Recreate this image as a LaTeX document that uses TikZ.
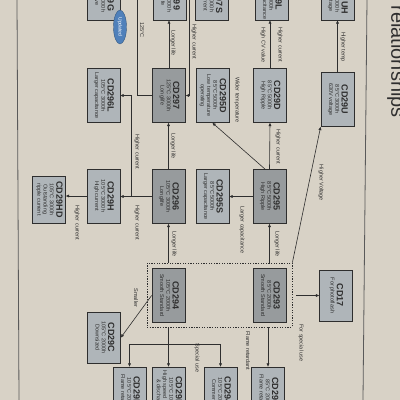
\documentclass[tikz,border=0pt]{standalone}
\usepackage{fontspec}
\setmainfont{Liberation Sans}
\usepackage{graphicx}
\usetikzlibrary{arrows.meta,shapes.geometric}
\definecolor{bg}{HTML}{D8D2C6}
\definecolor{ink}{HTML}{2E2E2E}
\definecolor{boxd}{HTML}{979B9D}
\definecolor{boxl}{HTML}{AFB5B9}
\definecolor{updb}{HTML}{4F80BA}
\definecolor{frame}{HTML}{5A5A5A}
\newcommand{\bxt}[2]{\rotatebox{-90}{\fontsize{5.5}{6.3}\selectfont\begin{tabular}{@{}c@{}}{\fontsize{9}{9.5}\selectfont\bfseries #1}\\#2\end{tabular}}}
\newcommand{\lb}[1]{\rotatebox{-90}{\fontsize{5.5}{6}\selectfont #1}}
\begin{document}
\begin{tikzpicture}[x=1pt,y=-1pt,
  boxbase/.style={draw=ink, line width=0.8pt, inner sep=0pt, text=ink},
  dbx/.style={boxbase, fill=boxd, minimum width=33pt, minimum height=54pt},
  lbx/.style={boxbase, fill=boxl, minimum width=33pt, minimum height=54pt},
  topbx/.style={minimum height=48pt},
  arr/.style={draw=ink, line width=0.6pt, -{Triangle[length=3.2pt,width=2.8pt]}},
  ln/.style={draw=ink, line width=0.6pt},
  lbl/.style={inner sep=0pt, text=ink}]
\useasboundingbox (0,0) rectangle (400,400);
\clip (0,0) rectangle (400,400);
\fill[bg] (0,0) rectangle (400,400);
% frame lines
\draw[frame, line width=0.8pt] (17,0) -- (19,400);
\draw[frame, line width=0.8pt] (367,0) -- (363,400);
% title (cut off)
\node[lbl, anchor=south west] (title) at (387,118) {\rotatebox{-90}{\fontsize{20}{20}\selectfont Series relationships}};

% top row (cut)
\node[lbx, topbx] (cd29g)  at (103.5,-4) {\bxt{CD29G}{105°C 2000h\\Positive}};
\node[lbx, topbx] (cd299)  at (169.5,-4) {\bxt{CD299}{125°C 5000h\\Longlife}};
\node[lbx, topbx] (cd297s) at (212,-4) {\bxt{CD297S}{125°C 3000h\\High current}};
\node[lbx, topbx] (cd29l)  at (271.5,-4) {\bxt{CD29L}{85°C 5000h\\Larger capacitance}};
\node[lbx, topbx] (cd29uh) at (337.5,-4) {\bxt{CD29UH}{105°C 3000h\\High voltage}};

% second row
\node[lbx] (cd296l) at (103.5,95.5) {\bxt{CD296L}{105°C 3000h\\Larger capacitance}};
\node[dbx] (cd297)  at (169,95.5) {\bxt{CD297}{125°C 3000h\\Longlife}};
\node[lbx] (cd295d) at (212.5,95.5) {\bxt{CD295D}{85°C 5000h\\Low temperature\\operating}};
\node[lbx] (cd29d)  at (270,95.5) {\bxt{CD29D}{85°C 5000h\\High Ripple}};
\node[lbx] (cd29u)  at (337.5,99.5) {\bxt{CD29U}{85°C 3000h\\630V voltage}};

% third row
\node[lbx, minimum height=47pt] (cd29hd) at (49,199.5) {\bxt{CD29HD}{105°C 3000h\\Outstanding\\ripple current}};
\node[lbx] (cd29h)  at (103.5,196) {\bxt{CD29H}{105°C 3000h\\High current}};
\node[dbx] (cd296)  at (168.5,196.5) {\bxt{CD296}{105°C 3000h\\Longlife}};
\node[lbx] (cd295s) at (212.5,196.5) {\bxt{CD295S}{85°C 5000h\\Larger capacitance}};
\node[dbx] (cd295)  at (269.5,196.5) {\bxt{CD295}{85°C 5000h\\High Ripple}};

% dashed group
\node[draw=ink, line width=0.8pt, dash pattern=on 1.3pt off 1.3pt, minimum width=145pt, minimum height=64pt, inner sep=0pt] (dbox) at (219.5,295) {};
\node[dbx] (cd294) at (168.5,295.5) {\bxt{CD294}{105°C 2000h\\Smooth Standard}};
\node[dbx] (cd293) at (269.5,295.5) {\bxt{CD293}{85°C 2000h\\Smooth Standard}};
\node[lbx, minimum height=51pt] (cd17) at (336,295.5) {\bxt{CD17}{For photoflash}};
\node[lbx, minimum height=51pt] (cd29c) at (104,337.5) {\bxt{CD29C}{105°C 2000h\\Downsized}};

% bottom row (cut)
\node[lbx] (b1) at (129.5,394) {\bxt{CD29NF}{105°C 2000h\\Flame retardant}};
\node[lbx] (b2) at (168.5,394) {\bxt{CD29HS}{105°C 1000h\\High speed charge\\\& discharge}};
\node[lbx] (b3) at (220.5,394) {\bxt{CD294C}{105°C 2000h\\Commercial}};
\node[lbx] (b4) at (268,394) {\bxt{CD293F}{85°C 2000h\\Flame retardant}};

% Updated badge
\node[ellipse, draw=updb!70!black, line width=0.4pt, fill=updb, minimum width=13pt, minimum height=34pt, inner sep=0pt] (upd) at (120,27) {\rotatebox{-90}{\color{white}\fontsize{5}{5}\selectfont Updated}};

% connectors
\draw[arr] (cd29u.north) -- (cd29uh.south);
\node[lbl] (l1) at (343,47) {\lb{Higher temp}};
\draw[arr] (dbox.north east) -- (cd29u.south west);
\node[lbl] (l2) at (321,183) {\lb{Higher Voltage}};
\draw[arr] (296,295.5) -- (cd17.west);
\node[lbl] (l3) at (301,343) {\lb{For special use}};
\draw[arr] (dbox.south -| b4) -- (b4.north);
\node[lbl] (l4) at (248,351) {\lb{Flame retardant}};
\draw[arr] (dbox.south -| b2) -- (b2.north);
\coordinate (jb) at (168.5,344);
\draw[ln] (b1 |- jb) -- (b3 |- jb);
\draw[arr] (b1 |- jb) -- (b1.north);
\draw[arr] (b3 |- jb) -- (b3.north);
\node[lbl] (l5) at (197,358) {\lb{Special use}};
\draw[arr] (cd294.west) -- (cd29c.east);
\node[lbl] (l6) at (136,298) {\lb{Smaller}};
\draw[arr] (cd296 |- dbox.north) -- (cd296.south);
\node[lbl] (l7) at (174,244) {\lb{Longer life}};
\draw[arr] (cd295 |- dbox.north) -- (cd295.south);
\node[lbl] (l8) at (277,244) {\lb{Longer life}};
\draw[arr] (cd295.west) -- (cd295s.east);
\node[lbl] (l9) at (242,230) {\lb{Larger capacitance}};
\draw[arr] (cd295.north) -- (cd29d.south);
\node[lbl] (l10) at (278,147) {\lb{Higher current}};
\draw[arr] ([xshift=-4.5pt]cd295.north) -- (cd295d.south);
\node[lbl] (l11) at (237,100) {\lb{Wider temperature}};
\draw[arr] (cd29d.north) -- (cd29d.north |- cd29l.south);
\node[lbl] (l12) at (280,45) {\lb{Higher current}};
\node[lbl] (l13) at (263,45) {\lb{High CV value}};
\draw[arr] (cd296.north) -- (cd296.north |- cd297.south);
\node[lbl] (l14) at (173,146) {\lb{Longer life}};
\draw[arr] (cd297.north) -- (cd297.north |- cd299.south);
\node[lbl] (l15) at (173,43) {\lb{Longer life}};
\coordinate (t125) at (137,-5);
\draw[ln] (cd297.west) -| (t125);
\node[lbl] (l16) at (142,30) {\lb{125°C}};
\coordinate (thc) at (189,-5);
\draw[arr] (thc) |- (cd297.east);
\node[lbl] (l17) at (194,42) {\lb{Higher current}};
\draw[arr] (cd296.west) -- (cd29h.east |- cd296.west);
\node[lbl] (l18) at (137,223) {\lb{Higher current}};
\coordinate (jh) at (131,196.5);
\draw[arr] (jh) |- (cd296l.east);
\node[lbl] (l19) at (137,152) {\lb{Higher current}};
\draw[arr] (cd29h.west) -- (cd29hd.east |- cd29h.west);
\node[lbl] (l20) at (77,223) {\lb{Higher current}};
\end{tikzpicture}
\end{document}
